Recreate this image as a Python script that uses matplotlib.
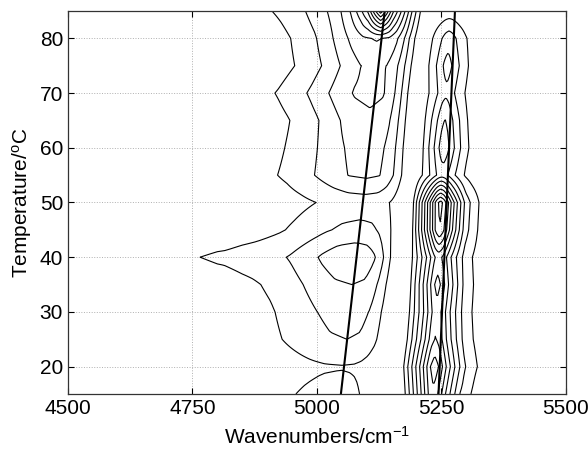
import numpy as np
import matplotlib
matplotlib.use("Agg")
import matplotlib.pyplot as plt

plt.rcParams['font.family'] = ['Liberation Sans', 'DejaVu Sans']
plt.rcParams['mathtext.fontset'] = 'custom'
plt.rcParams['mathtext.rm'] = 'Liberation Sans'
plt.rcParams['mathtext.it'] = 'Liberation Sans'
plt.rcParams['axes.unicode_minus'] = False

# ---- data ----
temperatures = [15, 20, 25, 30, 35, 40, 45, 50, 55, 60, 65, 70, 75, 80, 85]
# band near 5250 cm-1
peak_a   = [7.8, 8.6, 7.1, 6.6, 7.4, 6.4, 10.0, 10.4, 3.57, 4.7, 4.05, 2.8, 3.4, 2.6, 0.4]
center_a = [5233, 5236, 5238, 5240, 5242, 5244, 5246, 5248, 5251, 5255, 5257, 5259, 5262, 5265, 5268]
width_a  = [64, 70, 66, 64, 62, 62, 60, 60, 55, 53, 53, 53, 53, 53, 53]
# band near 5100 cm-1
peak_b   = [1.35, 0.95, 2.0, 2.4, 3.0, 3.8, 2.3, 1.5, 3.2, 3.4, 3.75, 4.3, 4.2, 5.1, 4.9]
center_b = [5040, 5050, 5060, 5065, 5070, 5075, 5085, 5095, 5100, 5102, 5105, 5108, 5115, 5120, 5128]
spread_b = [1.0, 1.0, 1.0, 1.0, 1.0, 1.0, 1.0, 1.0, 1.0, 0.9, 0.82, 0.93, 0.78, 0.78, 1.0]
# narrow top component and low-wavenumber wing
peak_c   = [0, 0, 0, 0, 0, 0, 0, 0, 0, 0, 0, 0, 0, 0, 7.8]
wing     = [0, 0, 0, 0, 0.2, 1.0, 0.15, 0, 0, 0, 0, 0, 0, 0, 0]

# band shapes (tabulated)
shape_a_u = [-1.0, -0.8, -0.6, -0.4, -0.25, -0.12, 0.0, 0.12, 0.25, 0.4, 0.6, 0.85, 1.05, 1.25, 1.55]
shape_a_v = [0.0, 0.2, 0.4, 0.61, 0.78, 0.93, 1.0, 0.93, 0.79, 0.63, 0.45, 0.25, 0.17, 0.11, 0.0]
shape_bl_d = [-320, -260, -200, -160, -130, -100, -65, -35, 0]
shape_bl_v = [0.0, 0.1, 0.25, 0.37, 0.5, 0.65, 0.83, 0.95, 1.0]
shape_br_d = [0, 25, 40, 55, 65, 75, 88]
shape_br_v = [1.0, 0.95, 0.82, 0.6, 0.4, 0.22, 0.0]
shape_c_d = [-90, -60, -40, -25, -12, 0, 12, 25, 40, 60, 90]
shape_c_v = [0.0, 0.12, 0.28, 0.45, 0.75, 1.0, 0.75, 0.45, 0.28, 0.12, 0.0]
wing_wn = [4700, 4750, 4800, 4850, 4900, 4950, 5000]
wing_v  = [0.0, 0.95, 0.9, 0.7, 0.4, 0.15, 0.0]

# peak-position trend lines
trend1_wn = [5048, 5136]
trend2_wn = [5244, 5277]
trend_t = [15, 85]

contour_levels = np.arange(1, 14)

# ---- build surface ----
wn = np.arange(4500, 5501, 2.5)
Z = np.zeros((len(temperatures), len(wn)))
for i in range(len(temperatures)):
    d = wn - center_b[i]
    Z[i] += peak_a[i] * np.interp((wn - center_a[i]) / width_a[i], shape_a_u, shape_a_v)
    Z[i] += peak_b[i] * np.where(d < 0,
                                 np.interp(d / spread_b[i], shape_bl_d, shape_bl_v),
                                 np.interp(d, shape_br_d, shape_br_v))
    Z[i] += peak_c[i] * np.interp(d, shape_c_d, shape_c_v)
    Z[i] += wing[i] * np.interp(wn, wing_wn, wing_v)

fig = plt.figure(figsize=(5.88, 4.51), dpi=100)
ax = fig.add_axes([0.1156, 0.1264, 0.8470, 0.8492])
ax.contour(wn, temperatures, Z, levels=contour_levels, colors='black', linewidths=0.8)
ax.plot(trend1_wn, trend_t, color='black', lw=1.5)
ax.plot(trend2_wn, trend_t, color='black', lw=1.5)

ax.set_xlim(4500, 5500)
ax.set_ylim(15, 85)
ax.set_xticks([4500, 4750, 5000, 5250, 5500])
ax.set_yticks([20, 30, 40, 50, 60, 70, 80])
ax.grid(True, color='#b0b0b0', linestyle=':', linewidth=0.7)
ax.tick_params(direction='in', top=True, right=True, labelsize=15, length=4, width=0.8)
for s in ax.spines.values():
    s.set_linewidth(0.9)
    s.set_color('#333333')
ax.set_xlabel('Wavenumbers/cm$^{-1}$', fontsize=15, labelpad=6)
ax.set_ylabel('Temperature/$^{\\mathrm{o}}$C', fontsize=15, labelpad=4)
fig.savefig('out.png', dpi=100)
